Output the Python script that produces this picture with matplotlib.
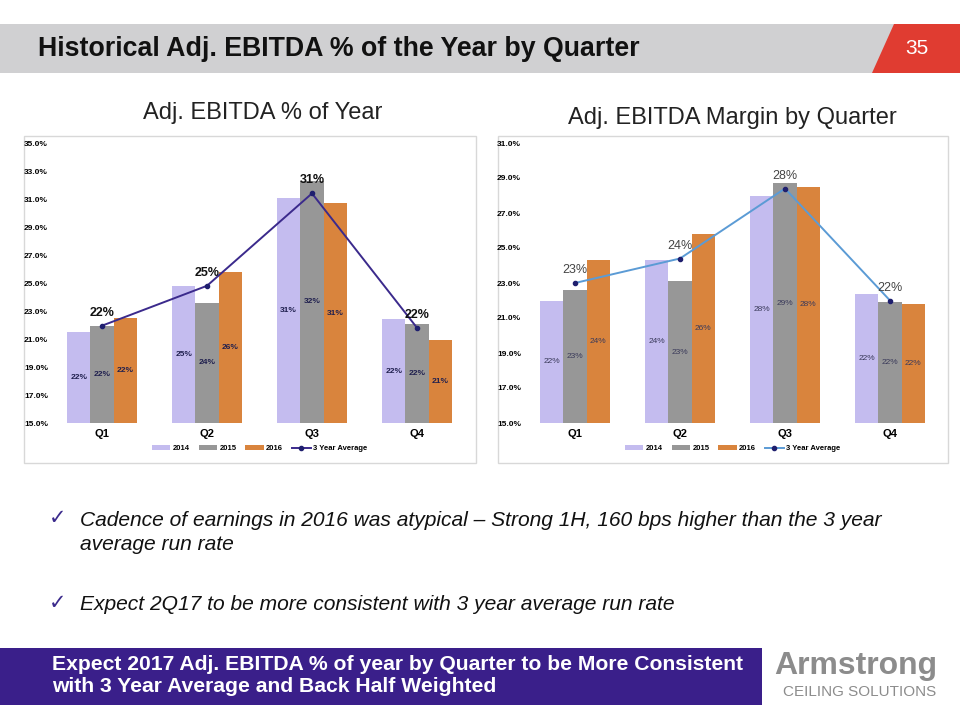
import numpy as np
import matplotlib
matplotlib.use("Agg")
import matplotlib.pyplot as plt
from matplotlib.patches import Polygon, Rectangle

plt.rcParams['font.family'] = ['Liberation Sans', 'DejaVu Sans']

quarters = ['Q1', 'Q2', 'Q3', 'Q4']
years = ['2014', '2015', '2016']

# Adj. EBITDA % of year
pct_2014 = [21.5, 24.8, 31.1, 22.4]
pct_2015 = [21.9, 23.6, 32.3, 22.1]
pct_2016 = [22.5, 25.8, 30.7, 20.9]
pct_avg = [21.95, 24.8, 31.4, 21.8]

# Adj. EBITDA margin by quarter
mrg_2014 = [22.0, 24.3, 28.0, 22.4]
mrg_2015 = [22.6, 23.1, 28.7, 21.9]
mrg_2016 = [24.3, 25.8, 28.5, 21.8]
mrg_avg = [23.0, 24.4, 28.4, 22.0]

left_ticks = [15, 17, 19, 21, 23, 25, 27, 29, 31, 33, 35]
right_ticks = [15, 17, 19, 21, 23, 25, 27, 29, 31]

c2014 = '#c4bcef'
c2015 = '#979797'
c2016 = '#d9843d'

W, H = 960, 720
fig = plt.figure(figsize=(9.6, 7.2), dpi=100)


def px_axes(x0, y0, x1, y1):
    return fig.add_axes([x0 / W, 1 - y1 / H, (x1 - x0) / W, (y1 - y0) / H])


# background layer for the slide shapes
bg = fig.add_axes([0, 0, 1, 1])
bg.set_xlim(0, W)
bg.set_ylim(H, 0)
bg.axis('off')

bg.add_patch(Rectangle((0, 24), 895, 49, color='#d0d0d2', lw=0))
bg.add_patch(Polygon([(894, 24), (960, 24), (960, 73), (872, 73)], color='#e03c31', lw=0))
bg.text(38, 49, 'Historical Adj. EBITDA % of the Year by Quarter', fontsize=19.3,
        fontweight='bold', va='center', ha='left', color='#111111')
bg.text(917, 49, '35', fontsize=15, color='white', va='center', ha='center')

# chart frames
bg.add_patch(Rectangle((24, 136), 452, 327, fill=False, ec='#d8d8d8', lw=1))
bg.add_patch(Rectangle((498, 136), 450, 327, fill=False, ec='#d8d8d8', lw=1))
bg.text(263, 113, 'Adj. EBITDA % of Year', fontsize=17, ha='center', va='center', color='#222222')
bg.text(732, 118, 'Adj. EBITDA Margin by Quarter', fontsize=17, ha='center', va='center', color='#222222')

# bullets
bullets = [
    (520, 'Cadence of earnings in 2016 was atypical \u2013 Strong 1H, 160 bps higher than the 3 year'),
    (545, 'average run rate'),
    (604, 'Expect 2Q17 to be more consistent with 3 year average run rate'),
]
for yy, txt in bullets:
    bg.text(80, yy, txt, fontsize=15.1, style='italic', va='center', ha='left', color='#111111')
for yy in (518, 603):
    bg.text(58, yy, '\u2713', fontsize=15, color='#3b2a8c', va='center', ha='center',
            family=['DejaVu Sans'])

# bottom banner
bg.add_patch(Rectangle((0, 648), 762, 57, color='#3a1f8a', lw=0))
bg.text(52, 665, 'Expect 2017 Adj. EBITDA % of year by Quarter to be More Consistent',
        fontsize=15.2, fontweight='bold', color='white', va='center', ha='left')
bg.text(52, 686, 'with 3 Year Average and Back Half Weighted',
        fontsize=15.2, fontweight='bold', color='white', va='center', ha='left')
bg.text(856, 666, 'Armstrong', fontsize=23, color='#8c8c8c', fontweight='bold',
        va='center', ha='center')
bg.text(860, 692, 'CEILING SOLUTIONS', fontsize=11, color='#8c8c8c', va='center', ha='center')


def draw_chart(ax, v14, v15, v16, avg, ticks, line_col, avg_lbl_col, avg_lbl_weight,
               in_lbl_weight, in_lbl_col):
    x = np.arange(len(quarters))
    w = 0.222
    ymin = ticks[0]
    b1 = ax.bar(x - w, np.array(v14) - ymin, w, bottom=ymin, color=c2014, label=years[0])
    b2 = ax.bar(x, np.array(v15) - ymin, w, bottom=ymin, color=c2015, label=years[1])
    b3 = ax.bar(x + w, np.array(v16) - ymin, w, bottom=ymin, color=c2016, label=years[2])
    ln, = ax.plot(x, avg, color=line_col, lw=1.4, marker='o', ms=3,
                  mfc='#1f1f6e', mec='#1f1f6e', label='3 Year Average')
    for off, vals in ((-w, v14), (0, v15), (w, v16)):
        for xi, v in zip(x, vals):
            ax.text(xi + off, (ymin + v) / 2, '{:.0f}%'.format(v), ha='center', va='center',
                    fontsize=6, fontweight=in_lbl_weight, color=in_lbl_col)
    for xi, v in zip(x, avg):
        ax.annotate('{:.0f}%'.format(v), (xi, v), xytext=(0, 5), textcoords='offset points',
                    ha='center', va='bottom', fontsize=9, fontweight=avg_lbl_weight,
                    color=avg_lbl_col)
    ax.set_xlim(-0.5, 3.5)
    ax.set_ylim(ticks[0], ticks[-1])
    ax.set_yticks(ticks)
    ax.set_yticklabels(['{:.1f}%'.format(t) for t in ticks], fontsize=6, fontweight='bold')
    ax.set_xticks(x)
    ax.set_xticklabels(quarters, fontsize=8, fontweight='bold')
    ax.tick_params(length=0, pad=4)
    ax.tick_params(axis='y', pad=1)
    for s in ax.spines.values():
        s.set_visible(False)
    ax.patch.set_alpha(0)
    ax.legend([b1, b2, b3, ln], years + ['3 Year Average'], loc='upper center',
              bbox_to_anchor=(0.5, -0.055), ncol=4, frameon=False,
              prop={'size': 5.5, 'weight': 'bold'}, handlelength=2.4, handleheight=0.5,
              columnspacing=1.2, handletextpad=0.3)


ax1 = px_axes(49.5, 143, 469.5, 423)
draw_chart(ax1, pct_2014, pct_2015, pct_2016, pct_avg, left_ticks, '#3b2a8c',
           '#111111', 'bold', 'bold', '#1f1f4e')

ax2 = px_axes(522.5, 143, 942.5, 423)
draw_chart(ax2, mrg_2014, mrg_2015, mrg_2016, mrg_avg, right_ticks, '#5b9bd5',
           '#444444', 'normal', 'normal', '#3a3a5a')

fig.savefig('out.png', dpi=100)
